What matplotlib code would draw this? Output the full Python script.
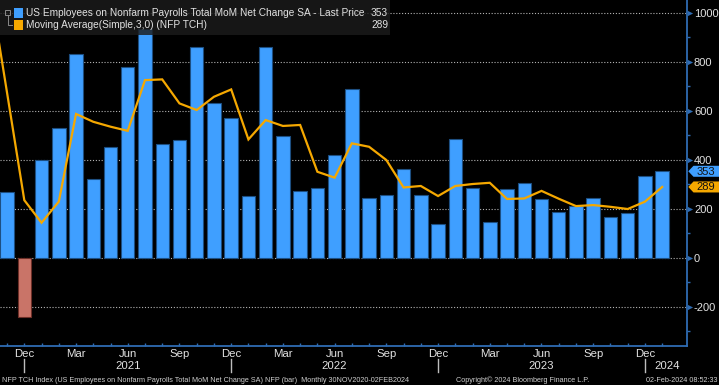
import numpy as np
import matplotlib
matplotlib.use("Agg")
import matplotlib.pyplot as plt
import matplotlib.transforms as mtransforms
from matplotlib.patches import Rectangle, Polygon

plt.rcParams['font.family'] = ['Liberation Sans', 'DejaVu Sans']

# ---------------- data ----------------
months = ['Nov 2020', 'Dec 2020', 'Jan 2021', 'Feb 2021', 'Mar 2021', 'Apr 2021', 'May 2021',
          'Jun 2021', 'Jul 2021', 'Aug 2021', 'Sep 2021', 'Oct 2021', 'Nov 2021', 'Dec 2021',
          'Jan 2022', 'Feb 2022', 'Mar 2022', 'Apr 2022', 'May 2022', 'Jun 2022', 'Jul 2022',
          'Aug 2022', 'Sep 2022', 'Oct 2022', 'Nov 2022', 'Dec 2022', 'Jan 2023', 'Feb 2023',
          'Mar 2023', 'Apr 2023', 'May 2023', 'Jun 2023', 'Jul 2023', 'Aug 2023', 'Sep 2023',
          'Oct 2023', 'Nov 2023', 'Dec 2023', 'Jan 2024']
nfp = [267, -243, 399, 528, 831, 320, 452, 780, 932, 464, 479, 861, 633, 569,
       252, 861, 496, 273, 286, 420, 689, 242, 255, 361, 257, 136, 483, 286,
       146, 279, 304, 238, 187, 211, 245, 165, 184, 333, 353]
ma3 = [673, 235, 143, 229, 587, 555, 535, 518, 725, 728, 630, 603, 657, 687,
       483, 562, 538, 542, 351, 327, 467, 453, 399, 287, 293, 252, 293, 301,
       306, 240, 242, 273, 241, 211, 215, 208, 199, 229, 289]
ma3_prev = 1110   # Oct 2020 point, just left of the visible window
month_ticks = ['Dec', 'Mar', 'Jun', 'Sep', 'Dec', 'Mar', 'Jun', 'Sep', 'Dec', 'Mar', 'Jun', 'Sep', 'Dec']
month_tick_pos = [1, 4, 7, 10, 13, 16, 19, 22, 25, 28, 31, 34, 37]
years = ['2021', '2022', '2023', '2024']
year_pos = [7, 19, 31, 37.55]
year_sep_pos = [1, 13, 25, 37]
yticks = [-200, 0, 200, 400, 600, 800, 1000]

# ---------------- style ----------------
BLUE = '#3f9fff'
BLUE_EDGE = '#1d4f82'
RED = '#c97468'
RED_EDGE = '#6e2f28'
ORANGE = '#f5a800'
AXBLUE = '#2f6cb3'
TXT = '#e2e2e2'

W, H = 719, 385
fig = plt.figure(figsize=(W / 100, H / 100), dpi=100, facecolor='black')
ax_bottom_px = 345.5
ax = fig.add_axes([0, 1 - ax_bottom_px / H, 687 / W, ax_bottom_px / H])
ax.set_facecolor('black')

x = np.arange(len(nfp))
fc = [BLUE if v >= 0 else RED for v in nfp]
ec = [BLUE_EDGE if v >= 0 else RED_EDGE for v in nfp]
ax.bar(x, nfp, width=0.78, color=fc, edgecolor=ec, linewidth=0.8, zorder=2)
ax.plot(np.r_[-1, x], np.r_[ma3_prev, ma3], color=ORANGE, lw=1.6, zorder=3,
        solid_joinstyle='miter')

ax.set_xlim(-0.41, 39.44)
ax.set_ylim(-358, 1052)

for v in yticks:
    ax.axhline(v, color='#b4b4b4', lw=0.8, ls=(0, (1, 1.6)), zorder=1)

for s in ['left', 'top']:
    ax.spines[s].set_visible(False)
for s in ['right', 'bottom']:
    ax.spines[s].set_color(AXBLUE)
    ax.spines[s].set_linewidth(1.3)

# y axis on the right
ax.yaxis.tick_right()
ax.set_yticks(yticks)
ax.set_yticklabels([str(v) for v in yticks])
ax.set_yticks(np.arange(-300, 1001, 100), minor=True)
ax.tick_params(axis='y', which='major', length=0, pad=5.0, labelsize=8, labelcolor=TXT)
ax.tick_params(axis='y', which='minor', length=2.5, width=1, color=AXBLUE, direction='out')
tri_trans = ax.get_yaxis_transform() + mtransforms.ScaledTranslation(3 / 100, 0, fig.dpi_scale_trans)
ax.scatter([1.0] * len(yticks), yticks, marker='>', s=14, color=AXBLUE, transform=tri_trans,
           clip_on=False, zorder=5, linewidths=0)

# x axis
ax.set_xticks(month_tick_pos)
ax.set_xticklabels(month_ticks)
ax.set_xticks(x, minor=True)
ax.tick_params(axis='x', which='both', direction='in', length=2.5, width=1, color=AXBLUE)
ax.tick_params(axis='x', which='major', pad=2.5, labelsize=8.2, labelcolor=TXT)
xt = ax.get_xaxis_transform()
for p, lab in zip(year_pos, years):
    ax.text(p, -(366 - ax_bottom_px) / ax_bottom_px, lab, transform=xt, ha='left' if lab == '2024' else 'center',
            va='center', color=TXT, fontsize=8.2, clip_on=False)
for p in year_sep_pos:
    ax.plot([p, p], [-(359 - ax_bottom_px) / ax_bottom_px, -(372 - ax_bottom_px) / ax_bottom_px],
            transform=xt, color='#bdbdbd', lw=1, clip_on=False)

# price tags on the right axis
def tag(val, color):
    verts = np.array([[1.3, 0], [6.5, 5.5], [33, 5.5], [33, -5.5], [6.5, -5.5]]) / 100.0
    tr = fig.dpi_scale_trans + mtransforms.ScaledTranslation(1.0, val, ax.get_yaxis_transform())
    fig.add_artist(Polygon(verts, closed=True, transform=tr, facecolor=color, edgecolor='none', zorder=6))
    ttr = ax.get_yaxis_transform() + mtransforms.ScaledTranslation(18.5 / 100, -0.3 / 100, fig.dpi_scale_trans)
    fig.text(1.0, val, f'{val:.0f}', transform=ttr, ha='center', va='center', fontsize=8,
             color='#111111', zorder=7)

tag(nfp[-1], BLUE)
tag(ma3[-1], ORANGE)

# legend box
def fx(px):
    return px / W

def fy(py):
    return 1 - py / H

fig.add_artist(Rectangle((0, fy(35)), fx(390), 35 / H, transform=fig.transFigure,
                         facecolor='#1c1c1c', alpha=0.82, edgecolor='none', zorder=5))
fig.add_artist(Rectangle((fx(13.5), fy(17.5)), fx(9), 9 / H, transform=fig.transFigure,
                         facecolor=BLUE, edgecolor='none', zorder=6))
fig.add_artist(Rectangle((fx(13.5), fy(29.5)), fx(9), 9 / H, transform=fig.transFigure,
                         facecolor=ORANGE, edgecolor='none', zorder=6))
fig.add_artist(Rectangle((fx(5), fy(15)), fx(5), 5 / H, transform=fig.transFigure,
                         facecolor='none', edgecolor='#8a8a8a', lw=0.7, zorder=6))
fig.add_artist(plt.Line2D([fx(7.5), fx(7.5), fx(12)], [fy(15), fy(25), fy(25)],
                          transform=fig.transFigure, color='#8a8a8a', lw=0.7, zorder=6))
LFS = 7.3
fig.text(fx(26), fy(13), 'US Employees on Nonfarm Payrolls Total MoM Net Change SA - Last Price',
         color=TXT, fontsize=LFS, va='center', ha='left', zorder=7)
fig.text(fx(388), fy(13), f'{nfp[-1]}', color=TXT, fontsize=LFS, va='center', ha='right', zorder=7)
fig.text(fx(26), fy(25), 'Moving Average(Simple,3,0) (NFP TCH)',
         color=TXT, fontsize=LFS, va='center', ha='left', zorder=7)
fig.text(fx(388), fy(25), f'{ma3[-1]}', color=TXT, fontsize=LFS, va='center', ha='right', zorder=7)

# footer
FFS = 5.2
fig.text(fx(2), fy(380), 'NFP TCH Index (US Employees on Nonfarm Payrolls Total MoM Net Change SA) NFP (bar)  '
         'Monthly 30NOV2020-02FEB2024', color='#cfcfcf', fontsize=FFS, va='center', ha='left')
fig.text(fx(456), fy(380), 'Copyright\u00a9 2024 Bloomberg Finance L.P.', color='#cfcfcf', fontsize=FFS,
         va='center', ha='left')
fig.text(fx(717), fy(380), '02-Feb-2024 08:52:33', color='#cfcfcf', fontsize=FFS, va='center', ha='right')

fig.savefig('out.png', dpi=100, facecolor='black')
